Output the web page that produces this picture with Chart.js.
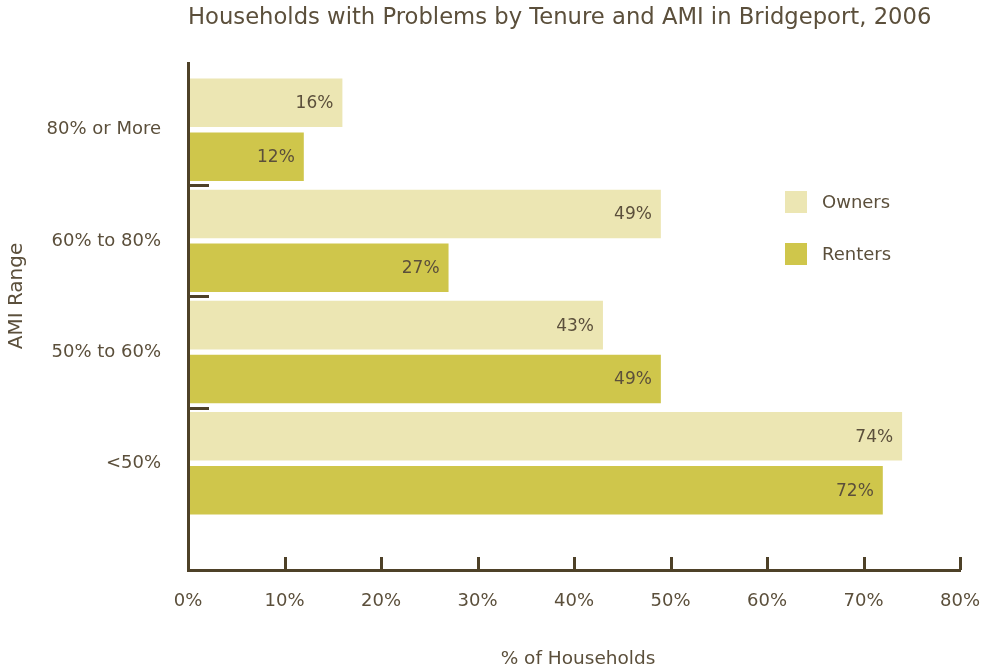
<!DOCTYPE html>
<html>
<head>
<meta charset="utf-8">
<title>Households with Problems by Tenure and AMI in Bridgeport, 2006</title>
<script src="https://cdn.jsdelivr.net/npm/chart.js@4.4.1/dist/chart.umd.min.js"></script>
<style>
  html, body { margin: 0; padding: 0; background: #ffffff; }
  canvas { display: block; }
</style>
</head>
<body>
<canvas id="amiChart" width="983" height="671"></canvas>
<script>
const chartTitle = 'Households with Problems by Tenure and AMI in Bridgeport, 2006';
const categories = ['80% or More', '60% to 80%', '50% to 60%', '<50%'];
const seriesNames = ['Owners', 'Renters'];
const owners = [16, 49, 43, 74];
const renters = [12, 27, 49, 72];
const xTickValues = [0, 10, 20, 30, 40, 50, 60, 70, 80];

const ink = '#5b4f3b';
const axisInk = '#4e4128';
const fillOwners = '#ece6b3';
const fillRenters = '#cfc64b';
const face = '"DejaVu Sans", sans-serif';

// bars sit on a numeric index axis so the plot can run past the last band
const toPoints = vals => vals.map((v, i) => ({ x: v, y: i }));

const decor = {
  id: 'decor',
  afterDraw(chart) {
    const { ctx, chartArea: area, scales: { x, y } } = chart;
    ctx.save();

    // short inward tick marks on both axes
    ctx.strokeStyle = axisInk;
    ctx.lineWidth = 3;
    for (let i = 0; i < categories.length - 1; i++) {
      const py = Math.round(y.getPixelForValue(i + 0.5)) + 0.5;
      ctx.beginPath();
      ctx.moveTo(area.left, py);
      ctx.lineTo(area.left + 21, py);
      ctx.stroke();
    }
    xTickValues.slice(1).forEach(v => {
      const px = Math.round(x.getPixelForValue(v)) + 0.5;
      ctx.beginPath();
      ctx.moveTo(px, area.bottom);
      ctx.lineTo(px, area.bottom - 13);
      ctx.stroke();
    });

    // value labels inside the bar ends
    ctx.fillStyle = ink;
    ctx.font = '17px ' + face;
    ctx.textAlign = 'right';
    ctx.textBaseline = 'middle';
    chart.data.datasets.forEach((ds, d) => {
      chart.getDatasetMeta(d).data.forEach((bar, i) => {
        ctx.fillText(ds.data[i].x + '%', bar.x - 9, bar.y + 1);
      });
    });

    // legend
    ctx.font = '18px ' + face;
    ctx.textAlign = 'left';
    chart.data.datasets.forEach((ds, d) => {
      const top = 191 + d * 52;
      ctx.fillStyle = ds.backgroundColor;
      ctx.fillRect(785, top, 22, 22);
      ctx.fillStyle = ink;
      ctx.fillText(ds.label, 822, top + 12);
    });

    // titles
    ctx.fillStyle = ink;
    ctx.font = '22.7px ' + face;
    ctx.textBaseline = 'alphabetic';
    ctx.fillText(chartTitle, 188, 24);

    ctx.font = '18.5px ' + face;
    ctx.textAlign = 'center';
    ctx.fillText('% of Households', (area.left + area.right) / 2 + 4, 664);

    ctx.font = '20px ' + face;
    ctx.translate(22, 296);
    ctx.rotate(-Math.PI / 2);
    ctx.fillText('AMI Range', 0, 0);
    ctx.restore();
  }
};

new Chart(document.getElementById('amiChart'), {
  type: 'bar',
  data: {
    datasets: [
      { label: seriesNames[0], data: toPoints(owners), backgroundColor: fillOwners },
      { label: seriesNames[1], data: toPoints(renters), backgroundColor: fillRenters }
    ]
  },
  options: {
    indexAxis: 'y',
    responsive: false,
    animation: false,
    categoryPercentage: 0.97,
    barPercentage: 0.9,
    layout: { padding: { top: 63, right: 23, bottom: 0, left: 0 } },
    plugins: {
      legend: { display: false },
      title: { display: false },
      tooltip: { enabled: false }
    },
    scales: {
      x: {
        type: 'linear',
        min: 0,
        max: 80,
        grid: { display: false, drawTicks: false },
        border: { display: true, color: axisInk, width: 3, z: 1 },
        ticks: {
          stepSize: 10,
          padding: 21,
          color: ink,
          font: { family: face, size: 18 },
          callback: v => v + '%'
        },
        afterFit: s => {
          s.height = 101;
          s.paddingLeft = 0;
          s.paddingRight = 0;
        }
      },
      y: {
        type: 'linear',
        reverse: true,
        offset: false,
        min: -0.6,
        max: 3.96,
        grid: { display: false, drawTicks: false, offset: false },
        border: { display: true, color: axisInk, width: 3, z: 1 },
        afterBuildTicks: s => { s.ticks = categories.map((_, i) => ({ value: i })); },
        ticks: {
          padding: 27,
          color: ink,
          font: { family: face, size: 18 },
          callback: v => categories[v]
        },
        afterFit: s => {
          s.width = 188;
          s.paddingTop = 0;
          s.paddingBottom = 0;
        }
      }
    }
  },
  plugins: [decor]
});
</script>
</body>
</html>
